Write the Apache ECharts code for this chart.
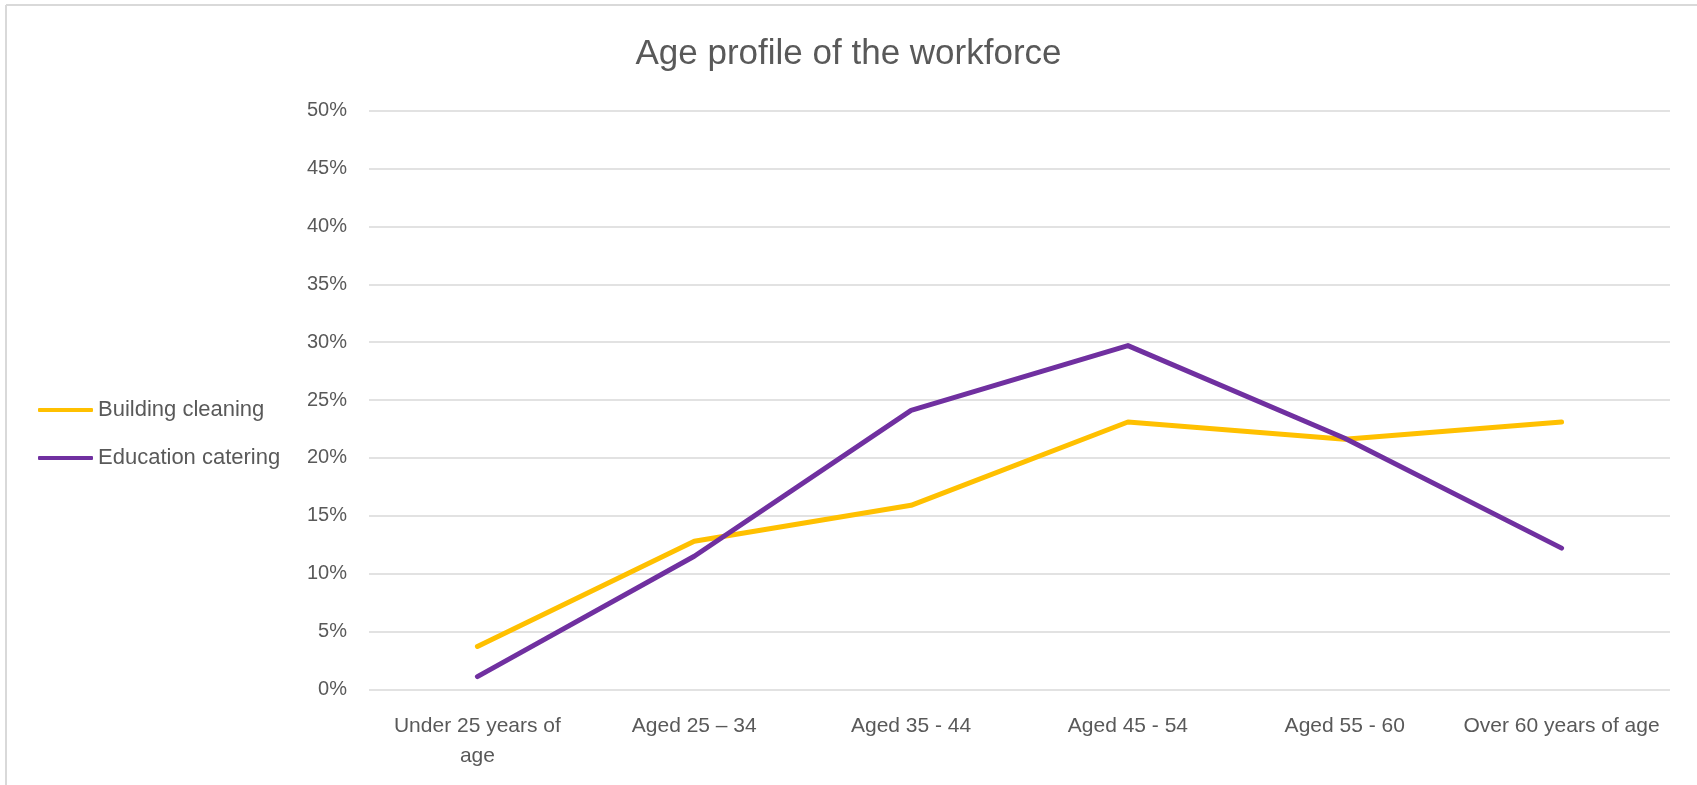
<!DOCTYPE html>
<html lang="en">
<head>
    <meta charset="UTF-8">
    <title>Age profile of the workforce</title>
    <style>
        html, body { margin: 0; padding: 0; background: #fff; }
        #main { width: 1697px; height: 785px; }
    </style>
</head>
<body>
    <div id="main"></div>
</body>
<script src="https://cdn.jsdelivr.net/npm/echarts@6/dist/echarts.min.js"></script>
<script>
    // data (percent)
    const categories = ['Under 25 years of\nage', 'Aged 25 \u2013 34', 'Aged 35 - 44', 'Aged 45 - 54', 'Aged 55 - 60', 'Over 60 years of age']
    const buildingCleaning = [3.7, 12.8, 15.9, 23.1, 21.6, 23.1]
    const educationCatering = [1.1, 11.5, 24.1, 29.7, 21.7, 12.2]
    const seriesNames = ['Building cleaning', 'Education catering']

    const font = '"Liberation Sans", Arial, sans-serif'
    const textColor = '#595959'

    let chart = echarts.init(document.getElementById('main'))

    chart.setOption({
        animation: false,
        color: ['#FFC000', '#7030A0'],
        title: {
            text: 'Age profile of the workforce',
            left: 'center',
            top: 32,
            textStyle: {
                fontFamily: font,
                fontSize: 35,
                fontWeight: 'normal',
                color: textColor
            }
        },
        // thin frame on the top and left edges
        graphic: [
            { type: 'line', shape: { x1: 6, y1: 5, x2: 1697, y2: 5 }, style: { stroke: '#d9d9d9', lineWidth: 2 } },
            { type: 'line', shape: { x1: 6, y1: 5, x2: 6, y2: 785 }, style: { stroke: '#d9d9d9', lineWidth: 2 } }
        ],
        legend: {
            orient: 'vertical',
            left: 33,
            top: 394,
            icon: 'roundRect',
            itemWidth: 55,
            itemHeight: 4,
            itemGap: 26,
            textStyle: {
                fontFamily: font,
                fontSize: 22,
                color: textColor
            },
            data: seriesNames
        },
        grid: {
            left: 369,
            right: 27,
            top: 110.7,
            bottom: 95.7
        },
        xAxis: {
            type: 'category',
            data: categories,
            boundaryGap: true,
            axisLine: { show: false },
            axisTick: { show: false },
            axisLabel: {
                interval: 0,
                margin: 22,
                fontFamily: font,
                fontSize: 21,
                lineHeight: 30,
                color: textColor
            }
        },
        yAxis: {
            type: 'value',
            min: 0,
            max: 50,
            interval: 5,
            axisLine: { show: false },
            axisTick: { show: false },
            axisLabel: {
                margin: 22,
                fontFamily: font,
                fontSize: 20,
                color: textColor,
                formatter: '{value}%'
            },
            splitLine: {
                lineStyle: { color: '#d9d9d9', width: 1.5 }
            }
        },
        series: [
            {
                name: seriesNames[0],
                type: 'line',
                data: buildingCleaning,
                symbol: 'none',
                lineStyle: { width: 5, cap: 'round', join: 'round' }
            },
            {
                name: seriesNames[1],
                type: 'line',
                data: educationCatering,
                symbol: 'none',
                lineStyle: { width: 5, cap: 'round', join: 'round' }
            }
        ]
    })
</script>
</html>
